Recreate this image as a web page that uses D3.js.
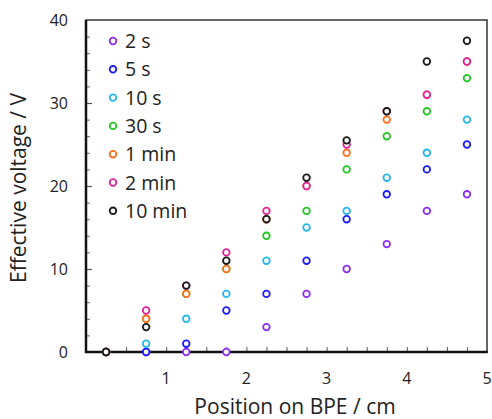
<!DOCTYPE html>
<html>
<head>
<meta charset="utf-8">
<script src="https://cdn.jsdelivr.net/npm/d3@7"></script>
<style>
  html, body { margin: 0; padding: 0; background: #fff; }
  svg { display: block; font-family: "Open Sans", "Noto Sans", sans-serif; }
</style>
</head>
<body>
<svg id="chart" width="492" height="419"></svg>
<script>
// Electrode positions along the bipolar electrode (cm)
const positions = [0.25, 0.75, 1.25, 1.75, 2.25, 2.75, 3.25, 3.75, 4.25, 4.75];

// Series labels and colours
const seriesNames = ["2 s", "5 s", "10 s", "30 s", "1 min", "2 min", "10 min"];
const seriesColors = ["#8e2cf0", "#1c1cf5", "#25b6ee", "#22c822", "#ff6f1c", "#e0249c", "#1a1a1a"];

// Effective voltage (V) for each exposure time
const v2s    = [0, 0, 0, 0, 3, 7, 10, 13, 17, 19];
const v5s    = [0, 0, 1, 5, 7, 11, 16, 19, 22, 25];
const v10s   = [0, 1, 4, 7, 11, 15, 17, 21, 24, 28];
const v30s   = [0, 4, 7, 10, 14, 17, 22, 26, 29, 33];
const v1min  = [0, 4, 7, 10, 16, 20, 24, 28, 31, 35];
const v2min  = [0, 5, 8, 12, 17, 20, 25, 29, 31, 35];
const v10min = [0, 3, 8, 11, 16, 21, 25.5, 29, 35, 37.5];

const seriesValues = [v2s, v5s, v10s, v30s, v1min, v2min, v10min];

// Axis ticks
const xTickLabels = [1, 2, 3, 4, 5];
const yTickLabels = [0, 10, 20, 30, 40];

const svg = d3.select("#chart");
const plotLeft = 86, plotRight = 487, plotTop = 20, plotBottom = 352;

const x = d3.scaleLinear().domain([0, 5]).range([plotLeft, plotRight]);
const y = d3.scaleLinear().domain([0, 40]).range([plotBottom, plotTop]);

// Inward ticks on the bottom axis every 0.25 cm
const xAxis = d3.axisTop(x)
  .tickValues(d3.range(0.25, 5, 0.25))
  .tickSize(5)
  .tickFormat("");
svg.append("g")
  .attr("transform", `translate(0,${plotBottom})`)
  .call(xAxis)
  .call(g => g.select(".domain").remove())
  .call(g => g.selectAll("line").attr("stroke", "#555").attr("stroke-width", 1));

// Inward ticks on the left axis: minor every 2 V, major every 10 V
const yMinor = d3.axisRight(y)
  .tickValues(d3.range(2, 40, 2).filter(v => v % 10 !== 0))
  .tickSize(4)
  .tickFormat("");
svg.append("g")
  .attr("transform", `translate(${plotLeft},0)`)
  .call(yMinor)
  .call(g => g.select(".domain").remove())
  .call(g => g.selectAll("line").attr("stroke", "#666").attr("stroke-width", 1));

const yMajor = d3.axisRight(y)
  .tickValues([10, 20, 30])
  .tickSize(6)
  .tickFormat("");
svg.append("g")
  .attr("transform", `translate(${plotLeft},0)`)
  .call(yMajor)
  .call(g => g.select(".domain").remove())
  .call(g => g.selectAll("line").attr("stroke", "#555").attr("stroke-width", 1.2));

// Tick labels
svg.append("g").selectAll("text")
  .data(xTickLabels)
  .join("text")
  .attr("x", d => x(d))
  .attr("y", 384)
  .attr("text-anchor", "middle")
  .attr("font-size", 16)
  .attr("fill", "#222")
  .text(d => d);

svg.append("g").selectAll("text")
  .data(yTickLabels)
  .join("text")
  .attr("x", 68)
  .attr("y", d => y(d) + 5.5)
  .attr("text-anchor", "end")
  .attr("font-size", 16)
  .attr("fill", "#222")
  .text(d => d);

// Plot frame: thin top/right, heavier left/bottom
svg.append("rect")
  .attr("x", plotLeft).attr("y", plotTop)
  .attr("width", plotRight - plotLeft).attr("height", plotBottom - plotTop)
  .attr("fill", "none")
  .attr("stroke", "#333")
  .attr("stroke-width", 1.5);
svg.append("path")
  .attr("d", `M${plotLeft},${plotTop}V${plotBottom}H${plotRight + 0.75}`)
  .attr("fill", "none")
  .attr("stroke", "#111")
  .attr("stroke-width", 2.5);

// Data markers, drawn in series order so longer exposures sit on top
const marks = svg.append("g");
seriesValues.forEach((vals, i) => {
  marks.append("g")
    .selectAll("circle")
    .data(positions.map((p, j) => ({ p, v: vals[j] })).filter(d => d.v != null))
    .join("circle")
    .attr("cx", d => x(d.p))
    .attr("cy", d => y(d.v))
    .attr("r", 3.3)
    .attr("fill", "#fff")
    .attr("stroke", seriesColors[i])
    .attr("stroke-width", 1.8);
});

// Legend
const legend = svg.append("g");
seriesNames.forEach((name, i) => {
  const ly = 41 + i * 28.3;
  legend.append("circle")
    .attr("cx", 113).attr("cy", ly).attr("r", 3.3)
    .attr("fill", "#fff")
    .attr("stroke", seriesColors[i])
    .attr("stroke-width", 1.8);
  legend.append("text")
    .attr("x", 125).attr("y", ly + 7)
    .attr("font-size", 19.5)
    .attr("fill", "#222")
    .text(name);
});

// Axis titles
svg.append("text")
  .attr("x", 295).attr("y", 414)
  .attr("text-anchor", "middle")
  .attr("font-size", 21)
  .attr("fill", "#222")
  .text("Position on BPE / cm");

svg.append("text")
  .attr("transform", "translate(26,188) rotate(-90)")
  .attr("text-anchor", "middle")
  .attr("font-size", 21)
  .attr("fill", "#222")
  .text("Effective voltage / V");
</script>
</body>
</html>
